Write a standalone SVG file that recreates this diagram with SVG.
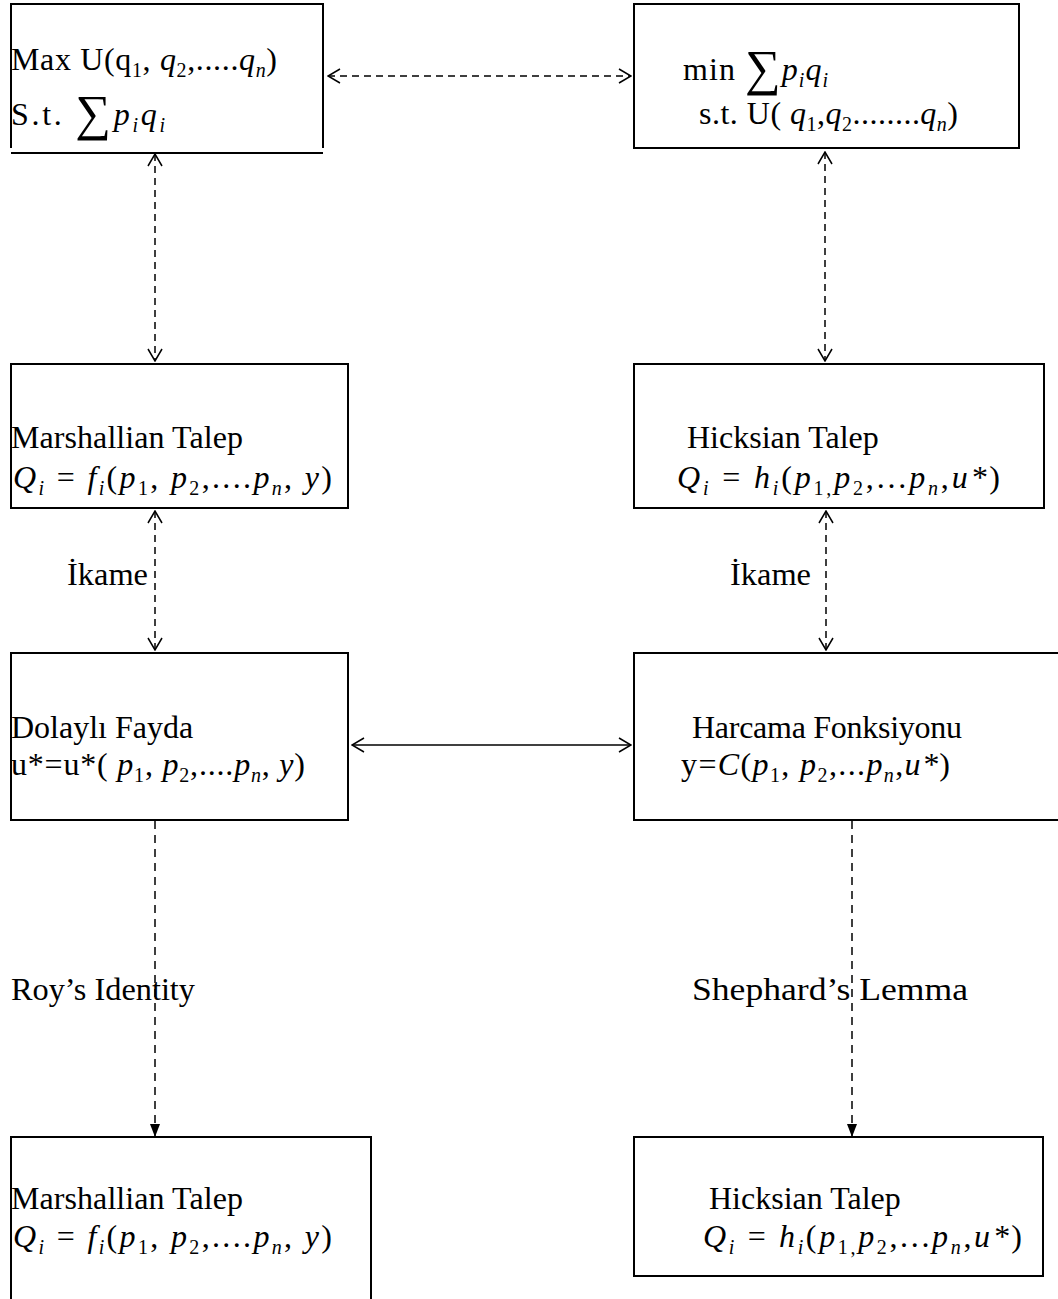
<svg xmlns="http://www.w3.org/2000/svg" width="1058" height="1299" viewBox="0 0 1058 1299">
<style>
.box{fill:none;stroke:#000;stroke-width:2}
text{font-family:"Liberation Serif","Times New Roman",serif;font-size:32px;fill:#000}
.it{font-style:italic}
.sb{font-size:20px}
.big{font-size:50px}
.c{fill:none;stroke:#000;stroke-width:1.5}
.d1{stroke-dasharray:7 5}
.d2{stroke-dasharray:8 6}
</style>
<defs>
<marker id="open" viewBox="0 0 14 16" refX="13" refY="8" markerWidth="14" markerHeight="16" markerUnits="userSpaceOnUse" orient="auto-start-reverse">
<path d="M1,1 L13,8 L1,15" fill="none" stroke="#000" stroke-width="1.5"/>
</marker>
<marker id="solid" viewBox="0 0 13 12" refX="13" refY="6" markerWidth="13" markerHeight="12" markerUnits="userSpaceOnUse" orient="auto">
<path d="M0,1 L13,6 L0,11 z" fill="#000"/>
</marker>
</defs>
<rect width="1058" height="1299" fill="#fff"/>

<g id="connectors">
<line class="c d1" x1="328" y1="76" x2="631" y2="76" marker-start="url(#open)" marker-end="url(#open)"/>
<line class="c d1" x1="155" y1="154" x2="155" y2="361" marker-start="url(#open)" marker-end="url(#open)"/>
<line class="c d1" x1="825" y1="152" x2="825" y2="361" marker-start="url(#open)" marker-end="url(#open)"/>
<line class="c d1" x1="155" y1="511" x2="155" y2="650" marker-start="url(#open)" marker-end="url(#open)"/>
<line class="c d1" x1="826" y1="511" x2="826" y2="650" marker-start="url(#open)" marker-end="url(#open)"/>
<line class="c" x1="352" y1="745" x2="631" y2="745" marker-start="url(#open)" marker-end="url(#open)"/>
<line class="c d2" x1="155" y1="821" x2="155" y2="1137" marker-end="url(#solid)"/>
<line class="c d2" x1="852" y1="821" x2="852" y2="1137" marker-end="url(#solid)"/>
<text x="67" y="585" textLength="81" lengthAdjust="spacingAndGlyphs">İkame</text>
<text x="730" y="585" textLength="81" lengthAdjust="spacingAndGlyphs">İkame</text>
<text x="11" y="1000" textLength="184" lengthAdjust="spacingAndGlyphs">Roy’s Identity</text>
<text x="692" y="1000" textLength="276" lengthAdjust="spacingAndGlyphs">Shephard’s Lemma</text>
</g>

<g id="max">
<path class="box" d="M11,148 V4 H323 V148"/>
<line class="box" x1="11" y1="153" x2="323" y2="153"/>
<text x="11" y="70" textLength="266" lengthAdjust="spacing">Max U(q<tspan class="sb" dy="7">1</tspan><tspan dy="-7">, </tspan><tspan class="it">q</tspan><tspan class="sb" dy="7">2</tspan><tspan dy="-7">,.....</tspan><tspan class="it">q</tspan><tspan class="sb it" dy="7">n</tspan><tspan dy="-7">)</tspan></text>
<text x="11" y="125" textLength="154" lengthAdjust="spacing">S.t. <tspan class="big" dy="5">∑</tspan><tspan class="it" dy="-5">p</tspan><tspan class="sb it" dy="7">i</tspan><tspan class="it" dy="-7">q</tspan><tspan class="sb it" dy="7">i</tspan></text>
</g>

<g id="min">
<rect class="box" x="634" y="4" width="385" height="144"/>
<text x="683" y="80" textLength="145" lengthAdjust="spacing">min <tspan class="big" dy="5">∑</tspan><tspan class="it" dy="-5">p</tspan><tspan class="sb it" dy="7">i</tspan><tspan class="it" dy="-7">q</tspan><tspan class="sb it" dy="7">i</tspan></text>
<text x="699" y="124" textLength="259" lengthAdjust="spacing">s.t. U( <tspan class="it">q</tspan><tspan class="sb" dy="7">1</tspan><tspan dy="-7">,</tspan><tspan class="it">q</tspan><tspan class="sb" dy="7">2</tspan><tspan dy="-7">........</tspan><tspan class="it">q</tspan><tspan class="sb it" dy="7">n</tspan><tspan dy="-7">)</tspan></text>
</g>

<g id="marshallian1">
<rect class="box" x="11" y="364" width="337" height="144"/>
<text x="11" y="448" textLength="232" lengthAdjust="spacing">Marshallian Talep</text>
<text x="13" y="488" textLength="319" lengthAdjust="spacing"><tspan class="it">Q</tspan><tspan class="sb it" dy="7">i</tspan><tspan dy="-7"> = </tspan><tspan class="it">f</tspan><tspan class="sb it" dy="7">i</tspan><tspan dy="-7">(</tspan><tspan class="it">p</tspan><tspan class="sb" dy="7">1</tspan><tspan dy="-7">, </tspan><tspan class="it">p</tspan><tspan class="sb" dy="7">2</tspan><tspan dy="-7">,....</tspan><tspan class="it">p</tspan><tspan class="sb it" dy="7">n</tspan><tspan dy="-7">, </tspan><tspan class="it">y</tspan>)</text>
</g>

<g id="hicksian1">
<rect class="box" x="634" y="364" width="410" height="144"/>
<text x="687" y="448">Hicksian Talep</text>
<text x="677" y="488" textLength="323" lengthAdjust="spacing"><tspan class="it">Q</tspan><tspan class="sb it" dy="7">i</tspan><tspan dy="-7"> = </tspan><tspan class="it">h</tspan><tspan class="sb it" dy="7">i</tspan><tspan dy="-7">(</tspan><tspan class="it">p</tspan><tspan class="sb" dy="7">1,</tspan><tspan class="it" dy="-7">p</tspan><tspan class="sb" dy="7">2</tspan><tspan dy="-7">,...</tspan><tspan class="it">p</tspan><tspan class="sb it" dy="7">n</tspan><tspan dy="-7">,</tspan><tspan class="it">u*</tspan>)</text>
</g>

<g id="dolayli">
<rect class="box" x="11" y="653" width="337" height="167"/>
<text x="11" y="738">Dolaylı Fayda</text>
<text x="11" y="775" textLength="294" lengthAdjust="spacing">u*=u*( <tspan class="it">p</tspan><tspan class="sb" dy="7">1</tspan><tspan dy="-7">, </tspan><tspan class="it">p</tspan><tspan class="sb" dy="7">2</tspan><tspan dy="-7">,....</tspan><tspan class="it">p</tspan><tspan class="sb it" dy="7">n</tspan><tspan dy="-7">, </tspan><tspan class="it">y</tspan>)</text>
</g>

<g id="harcama">
<path class="box" d="M1060,653 H634 V820 H1060"/>
<text x="692" y="738" textLength="270" lengthAdjust="spacing">Harcama Fonksiyonu</text>
<text x="681" y="775" textLength="269" lengthAdjust="spacing">y=<tspan class="it">C</tspan>(<tspan class="it">p</tspan><tspan class="sb" dy="7">1</tspan><tspan dy="-7">, </tspan><tspan class="it">p</tspan><tspan class="sb" dy="7">2</tspan><tspan dy="-7">,...</tspan><tspan class="it">p</tspan><tspan class="sb it" dy="7">n</tspan><tspan dy="-7">,</tspan><tspan class="it">u*</tspan>)</text>
</g>

<g id="marshallian2">
<path class="box" d="M11,1300 V1137 H371 V1300"/>
<text x="11" y="1209" textLength="232" lengthAdjust="spacing">Marshallian Talep</text>
<text x="13" y="1247" textLength="319" lengthAdjust="spacing"><tspan class="it">Q</tspan><tspan class="sb it" dy="7">i</tspan><tspan dy="-7"> = </tspan><tspan class="it">f</tspan><tspan class="sb it" dy="7">i</tspan><tspan dy="-7">(</tspan><tspan class="it">p</tspan><tspan class="sb" dy="7">1</tspan><tspan dy="-7">, </tspan><tspan class="it">p</tspan><tspan class="sb" dy="7">2</tspan><tspan dy="-7">,....</tspan><tspan class="it">p</tspan><tspan class="sb it" dy="7">n</tspan><tspan dy="-7">, </tspan><tspan class="it">y</tspan>)</text>
</g>

<g id="hicksian2">
<rect class="box" x="634" y="1137" width="409" height="139"/>
<text x="709" y="1209">Hicksian Talep</text>
<text x="703" y="1247" textLength="319" lengthAdjust="spacing"><tspan class="it">Q</tspan><tspan class="sb it" dy="7">i</tspan><tspan dy="-7"> = </tspan><tspan class="it">h</tspan><tspan class="sb it" dy="7">i</tspan><tspan dy="-7">(</tspan><tspan class="it">p</tspan><tspan class="sb" dy="7">1,</tspan><tspan class="it" dy="-7">p</tspan><tspan class="sb" dy="7">2</tspan><tspan dy="-7">,...</tspan><tspan class="it">p</tspan><tspan class="sb it" dy="7">n</tspan><tspan dy="-7">,</tspan><tspan class="it">u*</tspan>)</text>
</g>
</svg>
